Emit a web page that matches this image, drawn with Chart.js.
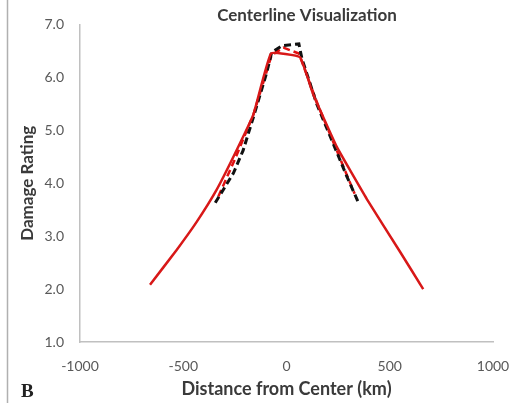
<!DOCTYPE html>
<html>
<head>
<meta charset="utf-8">
<script src="https://cdn.jsdelivr.net/npm/chart.js@4.4.7/dist/chart.umd.min.js"></script>
<style>
  html, body { margin: 0; padding: 0; background: #fff; }
  #wrap { width: 531px; height: 403px; position: relative; }
</style>
</head>
<body>
<div id="wrap"><canvas id="chart"></canvas></div>
<script>
// values
const redDist = [-661, -532, -435, -338, -257, -160, -75, 65, 130, 243, 389, 549, 662];
const redRating = [2.08, 2.74, 3.27, 3.88, 4.5, 5.3, 6.45, 6.38, 5.67, 4.69, 3.7, 2.71, 2.0];

const redDashDist = [-330, -250, -160, -72, -15, 60, 150, 240, 330];
const redDashRating = [3.75, 4.45, 5.3, 6.42, 6.56, 6.45, 5.5, 4.65, 3.8];

const blackDist = [-345, -257, -210, -160, -95, -72, -20, 60, 75, 147, 226, 292, 352];
const blackRating = [3.63, 4.19, 4.62, 5.25, 6.1, 6.47, 6.6, 6.63, 6.35, 5.49, 4.75, 4.13, 3.6];

const xTicks = [-1000, -500, 0, 500, 1000];
const yTicks = [1.0, 2.0, 3.0, 4.0, 5.0, 6.0, 7.0];

const toPoints = (xs, ys) => xs.map((x, i) => ({ x: x, y: ys[i] }));

// title, "B" panel letter and the figure border line
const extras = {
    id: 'extras',
    afterDraw(chart) {
        const ctx = chart.ctx;
        ctx.save();
        ctx.strokeStyle = '#b0b0b0';
        ctx.lineWidth = 1.5;
        ctx.beginPath();
        ctx.moveTo(7.5, 0);
        ctx.lineTo(7.5, 403);
        ctx.stroke();

        ctx.fillStyle = '#3a3a3a';
        ctx.font = 'bold 17px Lato';
        ctx.textAlign = 'center';
        ctx.textBaseline = 'middle';
        ctx.fillText('Centerline Visualization', 307, 16);

        ctx.fillStyle = '#222';
        ctx.font = 'bold 19px "Liberation Serif"';
        ctx.textAlign = 'left';
        ctx.fillText('B', 21, 392);
        ctx.restore();
    }
};

new Chart(document.getElementById('chart'), {
    type: 'scatter',
    data: {
        datasets: [
            {
                label: 'Red dashed',
                data: toPoints(redDashDist, redDashRating),
                showLine: true,
                borderColor: '#e01010',
                borderWidth: 2.5,
                borderDash: [7, 4],
                pointRadius: 0,
                order: 3
            },
            {
                label: 'Black dashed',
                data: toPoints(blackDist, blackRating),
                showLine: true,
                borderColor: '#111',
                borderWidth: 3,
                borderDash: [7, 4],
                pointRadius: 0,
                order: 2
            },
            {
                label: 'Red',
                data: toPoints(redDist, redRating),
                showLine: true,
                borderColor: '#d81818',
                borderWidth: 2.5,
                tension: 0.1,
                pointRadius: 0,
                order: 1
            }
        ]
    },
    options: {
        responsive: true,
        maintainAspectRatio: false,
        animation: false,
        layout: { padding: { left: 13, right: 38, top: 18, bottom: 0 } },
        plugins: {
            legend: { display: false },
            tooltip: { enabled: false }
        },
        scales: {
            x: {
                type: 'linear',
                min: -1000,
                max: 1000,
                afterBuildTicks: (s) => { s.ticks = xTicks.map(v => ({ value: v })); },
                afterFit: (s) => { s.height = 61; },
                grid: { display: false, drawTicks: false },
                border: { color: '#c0c0c0', width: 1.5 },
                ticks: {
                    color: '#595959',
                    font: { family: 'Lato', size: 14 },
                    padding: 16,
                    maxRotation: 0,
                    callback: (v) => String(v)
                },
                title: {
                    display: true,
                    text: 'Distance from Center (km)',
                    color: '#3a3a3a',
                    font: { family: 'Lato', size: 18, weight: 'bold' },
                    padding: { top: 0, bottom: 3 }
                }
            },
            y: {
                type: 'linear',
                min: 1,
                max: 7,
                afterBuildTicks: (s) => { s.ticks = yTicks.map(v => ({ value: v })); },
                afterFit: (s) => { s.width = 67; },
                grid: { display: false, drawTicks: false },
                border: { color: '#c0c0c0', width: 1.5 },
                ticks: {
                    color: '#595959',
                    font: { family: 'Lato', size: 14 },
                    padding: 16,
                    callback: (v) => Number(v).toFixed(1)
                },
                title: {
                    display: true,
                    text: 'Damage Rating',
                    color: '#3a3a3a',
                    font: { family: 'Lato', size: 17, weight: 'bold' },
                    padding: { top: 4, bottom: 0 }
                }
            }
        }
    },
    plugins: [extras]
});
</script>
</body>
</html>
